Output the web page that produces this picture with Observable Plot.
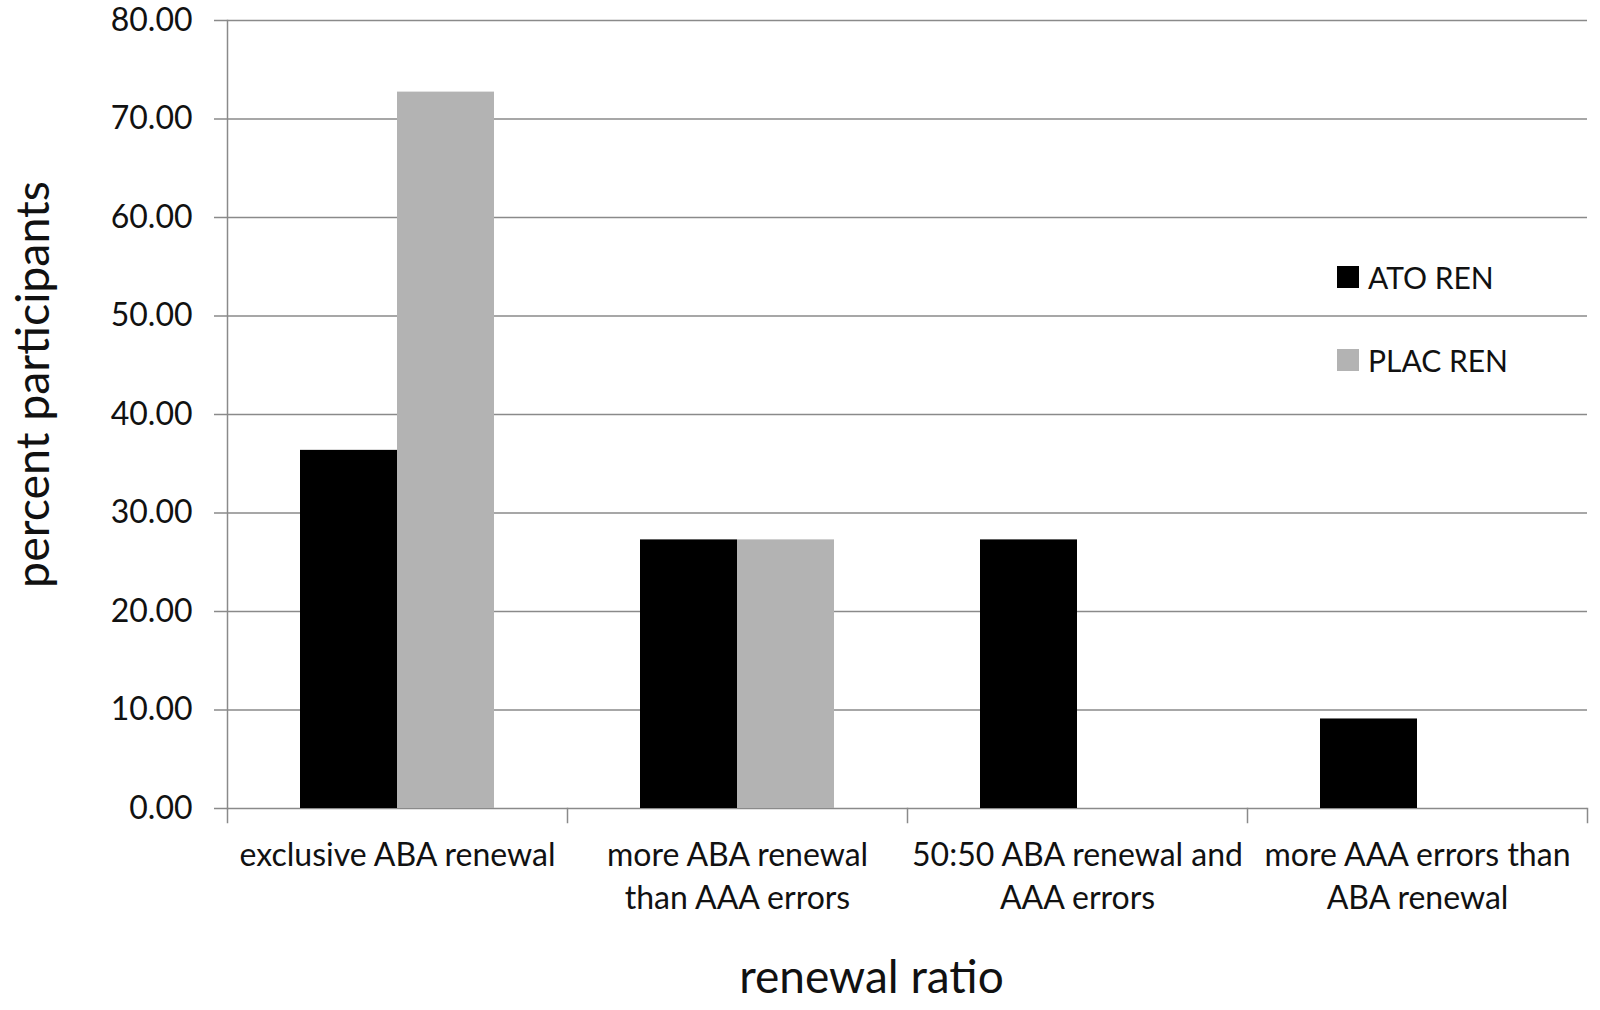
<!DOCTYPE html>
<html><head><meta charset="utf-8">
<script src="https://cdn.jsdelivr.net/npm/d3@7"></script>
<script src="https://cdn.jsdelivr.net/npm/@observablehq/plot@0.6"></script>
<style>
body{margin:0;background:#fff;}
#wrap{position:relative;width:1600px;height:1010px;font-family:Lato,sans-serif;}
.leg{position:absolute;left:1337px;display:flex;align-items:center;font-size:30px;color:#111;height:22px;white-space:nowrap;}
.leg .sw{width:22px;height:22px;margin-right:9px;display:inline-block;}
</style></head><body><div id="wrap"></div>
<script>
const categories = ["exclusive ABA renewal", "more ABA renewal than AAA errors", "50:50 ABA renewal and AAA errors", "more AAA errors than ABA renewal"];
const tickLabels = ["exclusive ABA renewal", "more ABA renewal\nthan AAA errors", "50:50 ABA renewal and\nAAA errors", "more AAA errors than\nABA renewal"];
const series = ["ATO REN", "PLAC REN"];
const colors = ["#000000", "#b3b3b3"];
const atoValues = [36.36, 27.27, 27.27, 9.09];
const placValues = [72.73, 27.27, 0, 0];
const yTicks = [0, 10, 20, 30, 40, 50, 60, 70, 80];
const yTitle = "percent participants";
const xTitle = "renewal ratio";

const data = categories.flatMap((c, i) => [
  {category: c, series: series[0], value: atoValues[i]},
  {category: c, series: series[1], value: placValues[i]}
]);

const W = 1600, H = 1010, mt = 20, mb = 202, ml = 227, mr = 13;
const plotH = H - mt - mb;
const gray = "#8a8a8a";

const chart = Plot.plot({
  width: W, height: H, marginTop: mt, marginBottom: mb, marginLeft: ml, marginRight: mr,
  style: {fontFamily: "Lato, sans-serif", color: "#111", background: "#fff"},
  fx: {domain: categories, padding: 0, label: null},
  x: {domain: series, paddingInner: 0, paddingOuter: 0.735, axis: null},
  y: {domain: [0, 80], label: null},
  color: {domain: series, range: colors},
  marks: [
    Plot.gridY(yTicks, {stroke: gray, strokeOpacity: 1, strokeWidth: 1.5}),
    Plot.axisY(yTicks, {tickSize: 13, tickPadding: 22, stroke: gray, strokeWidth: 1.5, fontSize: 32, tickFormat: d => d.toFixed(2), label: null}),
    Plot.frame({anchor: "left", facetAnchor: "left", stroke: gray, strokeWidth: 1.5}),
    Plot.frame({anchor: "left", insetTop: plotH, insetBottom: -14, stroke: gray, strokeWidth: 1.5}),
    Plot.frame({anchor: "right", facetAnchor: "right", insetTop: plotH, insetBottom: -14, stroke: gray, strokeWidth: 1.5}),
    Plot.barY(data, {fx: "category", x: "series", y: "value", fill: "series", inset: 0}),
    Plot.axisFx({anchor: "bottom", tickSize: 0, tickPadding: 27, fontSize: 32, lineHeight: 1.34, tickFormat: d => tickLabels[categories.indexOf(d)], label: null}),
    Plot.text([yTitle], {facet: "super", text: d => d, frameAnchor: "left", textAnchor: "middle", rotate: -90, dx: -193, dy: -30, fontSize: 46.5}),
    Plot.text([xTitle], {facet: "super", text: d => d, frameAnchor: "bottom", textAnchor: "middle", lineAnchor: "middle", dx: -36, dy: 170, fontSize: 46})
  ]
});
const wrap = document.getElementById("wrap");
wrap.appendChild(chart);

const tops = [266, 349];
series.forEach((s, i) => {
  const row = document.createElement("div");
  row.className = "leg";
  row.style.top = tops[i] + "px";
  const sw = document.createElement("span");
  sw.className = "sw";
  sw.style.background = colors[i];
  row.appendChild(sw);
  row.appendChild(document.createTextNode(s));
  wrap.appendChild(row);
});
</script></body></html>
